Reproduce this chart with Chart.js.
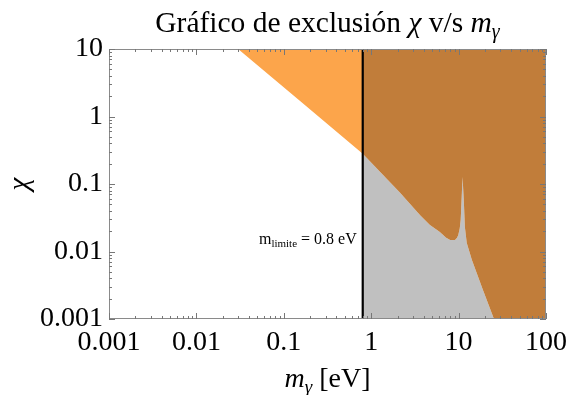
<!DOCTYPE html>
<html><head><meta charset="utf-8">
<script src="https://cdn.jsdelivr.net/npm/chart.js@4/dist/chart.umd.min.js"></script>
<style>html,body{margin:0;padding:0;background:#fff}canvas{display:block}</style>
</head><body>
<canvas id="c" width="569" height="395"></canvas>
<script>
// ---- text ----
const titleParts = [["Gráfico de exclusión ", "n"], ["χ", "i"], [" v/s ", "n"], ["m", "i"], ["γ", "sub"]];
const xTitleParts = [["m", "i"], ["γ", "sub"], [" [eV]", "n"]];
const yTitleText = "χ";
const annotParts = [["m", "n"], ["limite", "subn"], [" = 0.8 eV", "n"]];

// ---- axes ----
const xTickValues = [0.001, 0.01, 0.1, 1, 10, 100];
const xTickLabels = ["0.001", "0.01", "0.1", "1", "10", "100"];
const yTickValues = [0.001, 0.01, 0.1, 1, 10];
const yTickLabels = ["0.001", "0.01", "0.1", "1", "10"];

// ---- data ----
const limitMass = 0.8;
const leftMass = [0.03, 0.15, 0.8];
const leftChi = [10, 1.74, 0.28];
const rightMass = [0.8, 2.14, 3.61, 4.7, 6.1, 7.2, 8.0, 9.1, 9.6, 9.92, 10.3, 10.57, 10.9, 11.1, 11.5, 11.8, 12.4, 14.2, 19.0, 25.4, 100];
const rightChi = [0.28, 0.074, 0.0348, 0.0247, 0.0195, 0.016, 0.0148, 0.0148, 0.016, 0.0175, 0.022, 0.0293, 0.0736, 0.127, 0.0524, 0.0231, 0.0134, 0.0075, 0.0027, 0.001, 0.001];

const toPts = (xs, ys) => xs.map((x, i) => ({ x: x, y: ys[i] }));

const SERIF = "'Liberation Serif', 'Times New Roman', serif";

function drawRich(ctx, parts, size, subSize, subDrop, anchorX, baseY, align) {
  const fontFor = (st) => {
    if (st === "i") return "italic " + size + "px " + SERIF;
    if (st === "sub") return "italic " + subSize + "px " + SERIF;
    if (st === "subn") return subSize + "px " + SERIF;
    return size + "px " + SERIF;
  };
  let total = 0;
  const widths = parts.map(p => { ctx.font = fontFor(p[1]); const w = ctx.measureText(p[0]).width; total += w; return w; });
  let x = align === "right" ? anchorX - total : anchorX - total / 2;
  ctx.textBaseline = "alphabetic";
  ctx.textAlign = "left";
  parts.forEach((p, i) => {
    ctx.font = fontFor(p[1]);
    const isSub = p[1] === "sub" || p[1] === "subn";
    ctx.fillText(p[0], x, isSub ? baseY + subDrop : baseY);
    x += widths[i];
  });
}

const framePlugin = {
  id: "frame",
  afterDatasetsDraw(chart) {
    const { ctx, chartArea: a, scales } = chart;
    const xs = scales.x, ys = scales.y;
    ctx.save();
    ctx.strokeStyle = "#8a8a8a";
    ctx.lineWidth = 1;
    ctx.strokeRect(a.left + 0.5, a.top + 0.5, a.right - a.left - 1, a.bottom - a.top - 1);
    ctx.strokeStyle = "#777";
    const minorOf = (vals) => {
      const out = [];
      vals.forEach((v, i) => { if (i < vals.length - 1) for (let k = 2; k <= 9; k++) out.push(v * k); });
      return out;
    };
    ctx.beginPath();
    const xMaj = xTickValues, xMin = minorOf(xTickValues);
    xMaj.concat(xMin).forEach(v => {
      const len = xMaj.includes(v) ? 6 : 3;
      const px = Math.round(xs.getPixelForValue(v)) + 0.5;
      ctx.moveTo(px, a.bottom); ctx.lineTo(px, a.bottom - len);
      ctx.moveTo(px, a.top); ctx.lineTo(px, a.top + len);
    });
    const yMaj = yTickValues, yMin = minorOf(yTickValues);
    yMaj.concat(yMin).forEach(v => {
      const len = yMaj.includes(v) ? 6 : 3;
      const py = Math.round(ys.getPixelForValue(v)) + 0.5;
      ctx.moveTo(a.left, py); ctx.lineTo(a.left + len, py);
      ctx.moveTo(a.right, py); ctx.lineTo(a.right - len, py);
    });
    ctx.stroke();
    ctx.restore();
  },
  afterDraw(chart) {
    const { ctx, chartArea: a, scales } = chart;
    ctx.save();
    ctx.fillStyle = "#000";
    const cx = (a.left + a.right) / 2;
    drawRich(ctx, titleParts, 29.5, 20, 6, cx, 32, "center");
    drawRich(ctx, xTitleParts, 28, 19, 6, cx, 387, "center");
    // y title rotated
    ctx.save();
    ctx.translate(28, (a.top + a.bottom) / 2);
    ctx.rotate(-Math.PI / 2);
    ctx.font = "italic 29px " + SERIF;
    ctx.textAlign = "center";
    ctx.textBaseline = "alphabetic";
    ctx.fillText(yTitleText, 0, 0);
    ctx.restore();
    // annotation left of limit line
    const lx = scales.x.getPixelForValue(limitMass);
    drawRich(ctx, annotParts, 16, 11, 3, lx - 6, 244, "right");
    ctx.restore();
  }
};

const noPad = (s) => { s.paddingLeft = 0; s.paddingRight = 0; s.paddingTop = 0; s.paddingBottom = 0; };

new Chart(document.getElementById("c"), {
  type: "line",
  data: {
    datasets: [
      { data: [{ x: limitMass, y: yTickValues[0] }, { x: limitMass, y: yTickValues[yTickValues.length - 1] }],
        borderColor: "#000", borderWidth: 2.2, pointRadius: 0, fill: false },
      { data: toPts(leftMass, leftChi), borderColor: "rgba(0,0,0,0)", borderWidth: 0, pointRadius: 0,
        fill: "end", backgroundColor: "#fca54b" },
      { data: toPts(rightMass, rightChi), borderColor: "rgba(0,0,0,0)", borderWidth: 0, pointRadius: 0,
        fill: "end", backgroundColor: "#c17d3a" },
      { data: toPts(rightMass, rightChi), borderColor: "rgba(0,0,0,0)", borderWidth: 0, pointRadius: 0,
        fill: "start", backgroundColor: "#c0c0c0" }
    ]
  },
  options: {
    responsive: false,
    animation: false,
    devicePixelRatio: 1,
    layout: { padding: { top: 49, right: 23, left: 0, bottom: 0 } },
    plugins: { legend: { display: false }, tooltip: { enabled: false }, title: { display: false } },
    elements: { line: { tension: 0 } },
    scales: {
      x: {
        type: "logarithmic", min: xTickValues[0], max: xTickValues[xTickValues.length - 1],
        afterBuildTicks: (s) => { s.ticks = xTickValues.map(v => ({ value: v })); },
        afterFit: (s) => { s.height = 76; noPad(s); },
        grid: { display: false, drawTicks: false },
        border: { display: false },
        ticks: { autoSkip: false, maxRotation: 0, padding: 7, color: "#000",
          font: { family: SERIF, size: 28 },
          callback: (v) => { const i = xTickValues.findIndex(t => Math.abs(t - v) / t < 1e-6); return i >= 0 ? xTickLabels[i] : null; } }
      },
      y: {
        type: "logarithmic", min: yTickValues[0], max: yTickValues[yTickValues.length - 1],
        afterBuildTicks: (s) => { s.ticks = yTickValues.map(v => ({ value: v })); },
        afterFit: (s) => { s.width = 109; noPad(s); },
        grid: { display: false, drawTicks: false },
        border: { display: false },
        ticks: { autoSkip: false, padding: 6, color: "#000",
          font: { family: SERIF, size: 28 },
          callback: (v) => { const i = yTickValues.findIndex(t => Math.abs(t - v) / t < 1e-6); return i >= 0 ? yTickLabels[i] : null; } }
      }
    }
  },
  plugins: [framePlugin]
});
</script>
</body></html>
